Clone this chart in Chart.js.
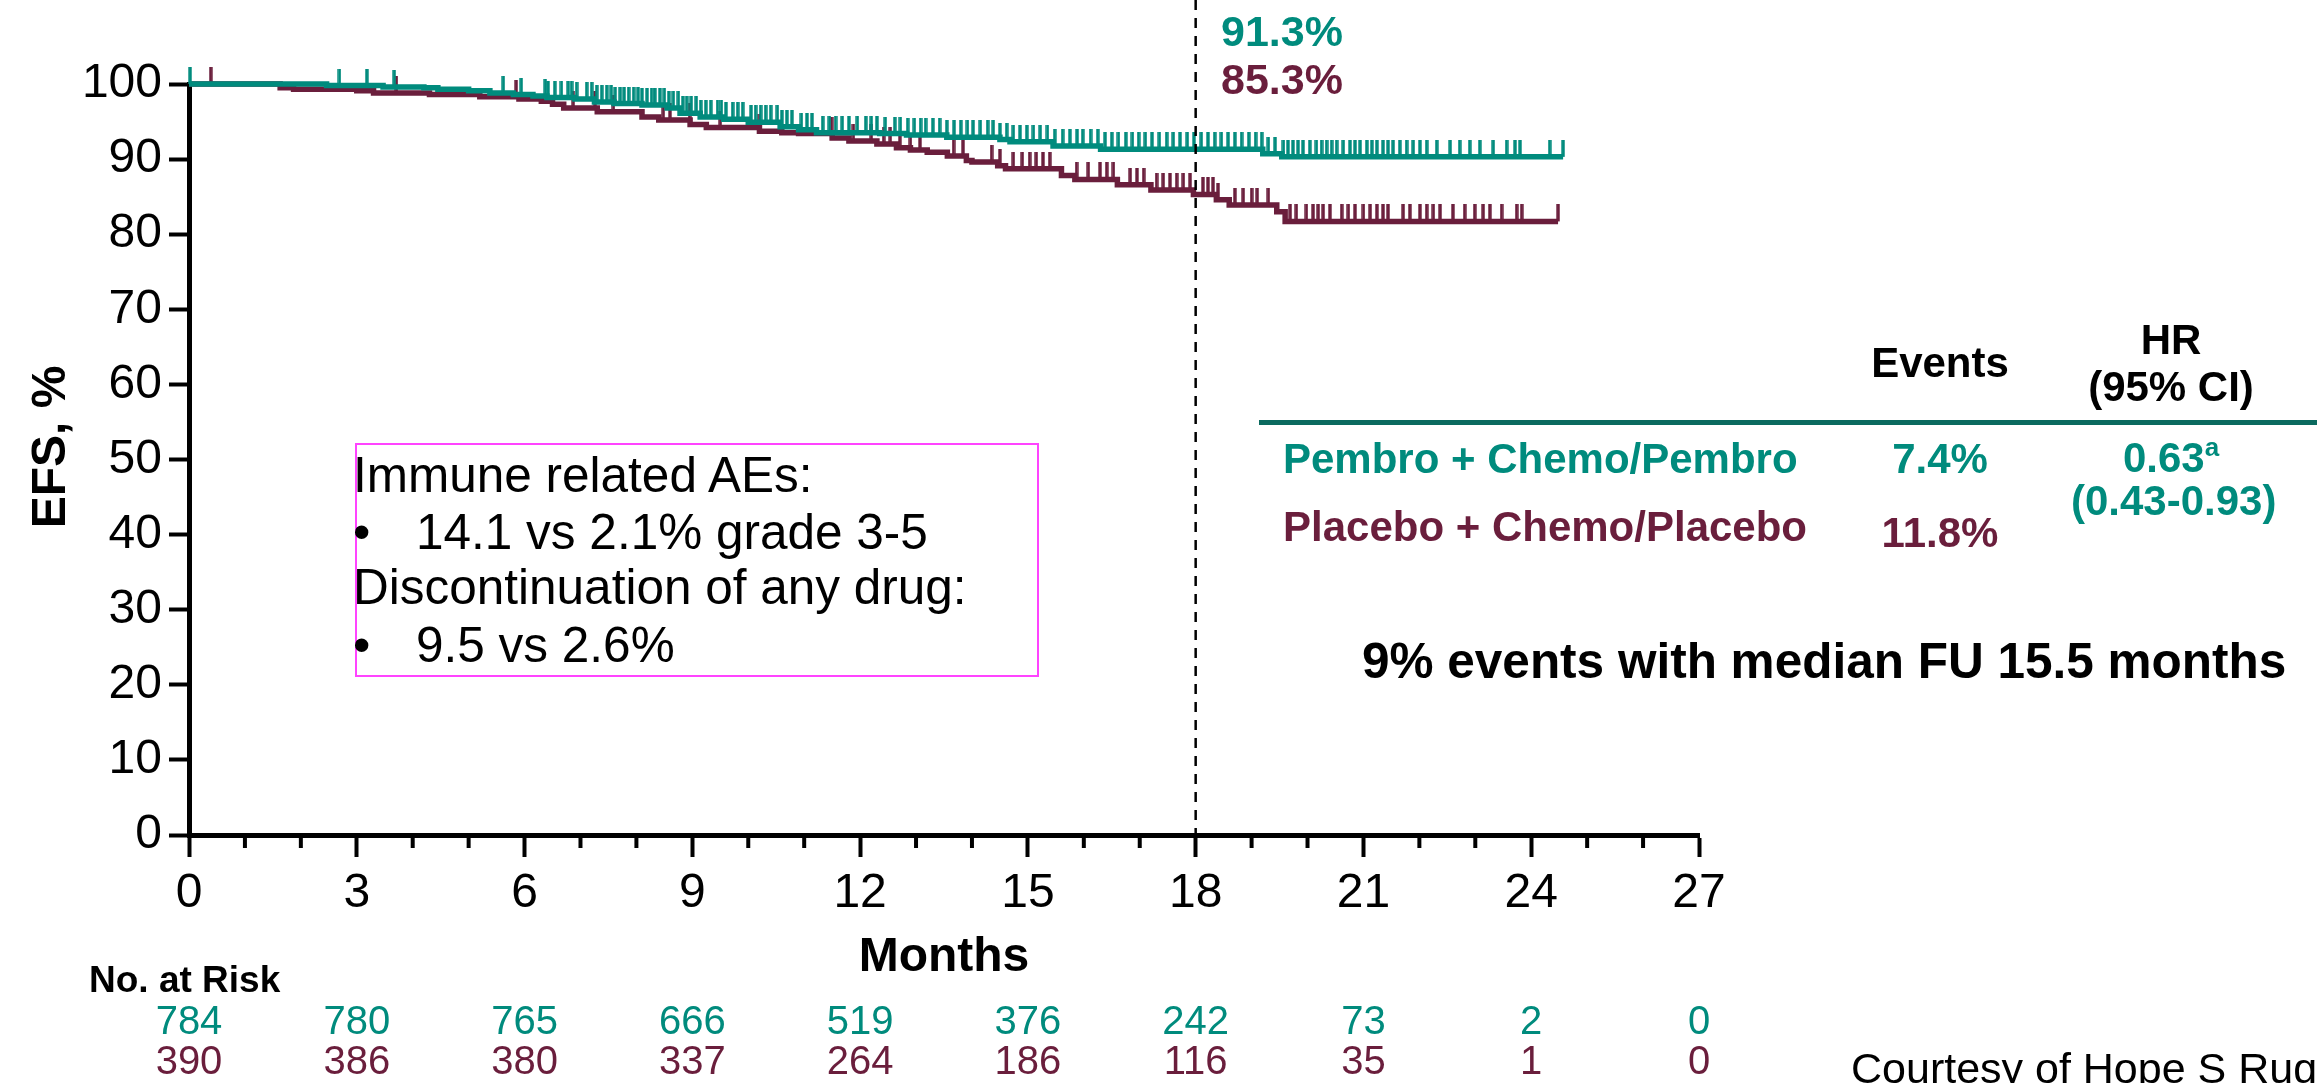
<!DOCTYPE html>
<html><head><meta charset="utf-8">
<script src="https://cdn.jsdelivr.net/npm/chart.js@4.4.1/dist/chart.umd.min.js"></script>
<style>
html,body{margin:0;padding:0;background:#fff;overflow:hidden;}
#wrap{position:relative;width:2317px;height:1083px;overflow:hidden;font-family:"Liberation Sans",Arial,Helvetica,sans-serif;color:#000;}
#c{position:absolute;left:0;top:0;}
.t{position:absolute;white-space:nowrap;line-height:1;}
.b{font-weight:bold;}
.teal{color:#008b7d;}
.mar{color:#6a1e3c;}
.ctr{text-align:center;}
#box{position:absolute;left:355px;top:443px;width:684px;height:234px;border:2px solid #ff44ff;box-sizing:border-box;}
</style></head><body>
<div id="wrap">
<canvas id="c" width="2317" height="1083"></canvas>

<div class="t b teal" style="left:1221px;top:10px;font-size:43px;">91.3%</div>
<div class="t b mar" style="left:1221px;top:58px;font-size:43px;">85.3%</div>

<div class="t b ctr" style="left:1840px;width:200px;top:342px;font-size:42px;">Events</div>
<div class="t b ctr" style="left:2071px;width:200px;top:319px;font-size:42px;">HR</div>
<div class="t b ctr" style="left:2071px;width:200px;top:366px;font-size:42px;">(95% CI)</div>
<div style="position:absolute;left:1259px;top:420px;width:1058px;height:5px;background:#0b6a5f;"></div>
<div class="t b teal" style="left:1283px;top:438px;font-size:42px;">Pembro + Chemo/Pembro</div>
<div class="t b teal ctr" style="left:1840px;width:200px;top:438px;font-size:42px;">7.4%</div>
<div class="t b teal ctr" style="left:2071px;width:200px;top:437px;font-size:42px;">0.63<span style="font-size:26px;position:relative;top:-16px;">a</span></div>
<div class="t b teal ctr" style="left:2071px;width:200px;top:480px;font-size:42px;">(0.43-0.93)</div>
<div class="t b mar" style="left:1283px;top:506px;font-size:42px;">Placebo + Chemo/Placebo</div>
<div class="t b mar ctr" style="left:1840px;width:200px;top:512px;font-size:42px;">11.8%</div>
<div class="t b" style="left:1362px;top:636px;font-size:49.5px;">9% events with median FU 15.5 months</div>

<div id="box"></div>
<div class="t" style="left:353px;top:450px;font-size:49.5px;">Immune related AEs:</div>
<div class="t" style="left:353px;top:507px;font-size:49.5px;">•</div>
<div class="t" style="left:416px;top:507px;font-size:49.5px;">14.1 vs 2.1% grade 3-5</div>
<div class="t" style="left:353px;top:562px;font-size:49.5px;">Discontinuation of any drug:</div>
<div class="t" style="left:353px;top:620px;font-size:49.5px;">•</div>
<div class="t" style="left:416px;top:620px;font-size:49.5px;">9.5 vs 2.6%</div>

<div class="t b" style="left:89px;top:961px;font-size:37px;">No. at Risk</div>
<div class="t" style="left:1851px;top:1047px;font-size:43px;">Courtesy of Hope S Rugo</div>
</div>
<script>
const FONT = '"Liberation Sans", Arial, Helvetica, sans-serif';
const TEAL = '#008b7d';
const MAROON = '#6a1e3c';

// Kaplan-Meier step data (months, EFS %)
const pembroTimes = [0, 2.46, 3.47, 4.2, 4.45, 5.0, 5.38, 5.8, 6.15, 6.4, 6.9, 7.25, 7.6, 8.1, 8.55, 8.78, 9.14, 9.56, 10.0, 10.57, 10.9, 11.22, 12.35, 12.83, 13.55, 14.5, 14.68, 15.45, 16.3, 19.2, 19.54, 24.57];
const pembroSurv  = [100, 99.8, 99.6, 99.5, 99.3, 99.1, 98.8, 98.6, 98.4, 98.2, 98.0, 97.6, 97.4, 97.2, 96.8, 96.1, 95.6, 95.3, 94.9, 94.3, 93.9, 93.5, 93.4, 93.2, 92.9, 92.6, 92.3, 91.75, 91.3, 90.7, 90.3, 90.3];

const placeboTimes = [0, 1.63, 1.87, 3.0, 3.3, 4.3, 5.2, 5.9, 6.3, 6.5, 6.7, 7.3, 8.1, 8.4, 8.96, 9.25, 10.2, 10.6, 10.9, 11.5, 11.8, 12.3, 12.65, 12.9, 13.2, 13.56, 13.9, 14.0, 14.46, 14.6, 15.6, 15.84, 16.6, 17.2, 17.96, 18.37, 18.6, 19.45, 19.6, 24.48];
const placeboSurv  = [100, 99.5, 99.3, 99.1, 98.8, 98.6, 98.3, 98.0, 97.7, 97.3, 96.8, 96.3, 95.6, 95.2, 94.6, 94.2, 93.7, 93.5, 93.4, 92.8, 92.4, 92.0, 91.5, 91.2, 90.9, 90.4, 89.8, 89.6, 89.1, 88.7, 87.8, 87.3, 86.6, 85.9, 85.3, 84.6, 83.9, 83.0, 81.7, 81.7];

// Censoring times (months)
const pembroCensor = [0.02, 2.69, 3.18, 3.67, 5.62, 5.94, 6.37, 6.42, 6.54, 6.66, 6.78, 6.84, 6.93, 7.11, 7.2, 7.29, 7.38,
  7.47, 7.55, 7.62, 7.71, 7.78, 7.86, 7.95, 8.03, 8.1, 8.19, 8.27, 8.33, 8.42, 8.5, 8.58, 8.66, 8.75, 8.83, 8.9, 8.98,
  9.07, 9.15, 9.24, 9.33, 9.45, 9.52, 9.6, 9.72, 9.81, 9.9, 10.05, 10.13, 10.22, 10.31, 10.4, 10.52, 10.6, 10.69, 10.78,
  10.95, 11.05, 11.14, 11.33, 11.45, 11.56, 11.68, 11.8, 11.95, 12.1, 12.2, 12.3, 12.45, 12.62, 12.72, 12.85, 12.97,
  13.08, 13.17, 13.3, 13.42, 13.55, 13.68, 13.8, 13.92, 14.02, 14.15, 14.28, 14.38, 14.5, 14.62, 14.74, 14.86, 14.98,
  15.1, 15.22, 15.35, 15.48, 15.62, 15.75, 15.88, 15.98, 16.12, 16.25, 16.38, 16.5, 16.62, 16.75, 16.87, 16.98, 17.1,
  17.22, 17.35, 17.48, 17.6, 17.72, 17.85, 17.97, 18.1, 18.22, 18.34, 18.46, 18.58, 18.7, 18.82, 18.95, 19.07, 19.18,
  19.3, 19.42, 19.57, 19.65, 19.74, 19.83, 19.92, 20.04, 20.16, 20.25, 20.34, 20.43, 20.52, 20.64, 20.76, 20.85, 20.94,
  21.06, 21.15, 21.24, 21.35, 21.44, 21.53, 21.65, 21.77, 21.89, 22.01, 22.13, 22.31, 22.55, 22.72, 22.9, 23.08, 23.32,
  23.56, 23.71, 23.8, 24.33, 24.57];
const placeboCensor = [0.39, 3.71, 5.85, 6.87, 7.26, 7.59, 8.48, 8.6, 8.95, 9.5, 10.2, 11.49, 11.88, 12.2, 12.42, 12.54,
  12.71, 12.9, 13.07, 13.67, 13.84, 14.35, 14.5, 14.74, 14.9, 15.03, 15.15, 15.27, 15.39, 15.87, 16.08, 16.29, 16.41,
  16.53, 16.83, 16.95, 17.07, 17.3, 17.42, 17.54, 17.66, 17.78, 17.9, 18.13, 18.22, 18.31, 18.4, 18.7, 18.85, 19.0,
  19.1, 19.3, 19.69, 19.8, 19.98, 20.1, 20.19, 20.28, 20.4, 20.61, 20.73, 20.85, 21.0, 21.12, 21.24, 21.35, 21.44,
  21.71, 21.83, 22.01, 22.13, 22.25, 22.37, 22.6, 22.81, 22.99, 23.14, 23.26, 23.47, 23.74, 23.83, 24.48];

// Number at risk
const riskTimes   = [0, 3, 6, 9, 12, 15, 18, 21, 24, 27];
const pembroRisk  = [784, 780, 765, 666, 519, 376, 242, 73, 2, 0];
const placeboRisk = [390, 386, 380, 337, 264, 186, 116, 35, 1, 0];

const landmarkMonth = 18;
const xMin = 0, xMax = 27, xMajorStep = 3, xMinorStep = 1;
const yMin = 0, yMax = 100, yStep = 10;
const yTitle = 'EFS, %';
const xTitle = 'Months';

function survAt(times, surv, t) {
  let v = surv[0];
  for (let i = 0; i < times.length; i++) { if (times[i] <= t) v = surv[i]; }
  return v;
}
function tickImg(color) {
  const c = document.createElement('canvas');
  c.width = 4; c.height = 34;
  const g = c.getContext('2d');
  g.fillStyle = color;
  g.fillRect(0.3, 0, 3.4, 17);
  return c;
}

const extrasPlugin = {
  id: 'extras',
  afterDatasetsDraw(chart) {
    const xs = chart.scales.x, ctx = chart.ctx, area = chart.chartArea;
    const px = xs.getPixelForValue(landmarkMonth);
    ctx.save();
    ctx.strokeStyle = '#000';
    ctx.lineWidth = 2.5;
    ctx.setLineDash([10, 8]);
    ctx.beginPath();
    ctx.moveTo(px, 0);
    ctx.lineTo(px, area.bottom);
    ctx.stroke();
    ctx.restore();
  },
  afterDraw(chart) {
    const xs = chart.scales.x, ctx = chart.ctx, area = chart.chartArea;
    ctx.save();
    ctx.strokeStyle = '#000';
    ctx.lineWidth = 4;
    for (let m = xMin; m <= xMax; m += xMinorStep) {
      if (m % xMajorStep === 0) continue;
      const p = xs.getPixelForValue(m);
      ctx.beginPath();
      ctx.moveTo(p, area.bottom);
      ctx.lineTo(p, area.bottom + 13);
      ctx.stroke();
    }
    // y-axis title
    ctx.save();
    ctx.translate(52, 447);
    ctx.rotate(-Math.PI / 2);
    ctx.font = 'bold 48px ' + FONT;
    ctx.fillStyle = '#000';
    ctx.textAlign = 'center';
    ctx.textBaseline = 'middle';
    ctx.fillText(yTitle, 0, 0);
    ctx.restore();
    // number at risk rows
    ctx.font = '40px ' + FONT;
    ctx.textAlign = 'center';
    ctx.textBaseline = 'alphabetic';
    riskTimes.forEach((t, i) => {
      const p = xs.getPixelForValue(t);
      ctx.fillStyle = TEAL;
      ctx.fillText(String(pembroRisk[i]), p, 1034);
      ctx.fillStyle = MAROON;
      ctx.fillText(String(placeboRisk[i]), p, 1074);
    });
    ctx.restore();
  }
};

new Chart(document.getElementById('c'), {
  type: 'line',
  data: {
    datasets: [
      { label: 'Pembro censored', data: pembroCensor.map(t => ({x: t, y: survAt(pembroTimes, pembroSurv, t)})),
        showLine: false, pointStyle: tickImg(TEAL), pointRadius: 8, clip: false, order: 0 },
      { label: 'Pembro + Chemo/Pembro', data: pembroTimes.map((t, i) => ({x: t, y: pembroSurv[i]})),
        stepped: true, borderColor: TEAL, borderWidth: 5.5, pointRadius: 0, fill: false, clip: false, order: 1 },
      { label: 'Placebo censored', data: placeboCensor.map(t => ({x: t, y: survAt(placeboTimes, placeboSurv, t)})),
        showLine: false, pointStyle: tickImg(MAROON), pointRadius: 8, clip: false, order: 2 },
      { label: 'Placebo + Chemo/Placebo', data: placeboTimes.map((t, i) => ({x: t, y: placeboSurv[i]})),
        stepped: true, borderColor: MAROON, borderWidth: 5.5, pointRadius: 0, fill: false, clip: false, order: 3 }
    ]
  },
  options: {
    responsive: false, animation: false, devicePixelRatio: 1,
    layout: { padding: { left: 0, top: 84, right: 618, bottom: 96 } },
    plugins: { legend: { display: false }, tooltip: { enabled: false } },
    scales: {
      x: {
        type: 'linear', min: xMin, max: xMax,
        ticks: { stepSize: xMajorStep, autoSkip: false, maxRotation: 0, color: '#000', padding: 8,
                 font: { family: FONT, size: 48 } },
        grid: { display: true, drawOnChartArea: false, drawTicks: true, tickLength: 22, tickWidth: 4, tickColor: '#000' },
        border: { display: true, color: '#000', width: 5 },
        title: { display: true, text: xTitle, color: '#000', padding: { top: 0, bottom: 0 },
                 font: { family: FONT, size: 48, weight: 'bold' } },
        afterFit(s) { s.height = 152; }
      },
      y: {
        min: yMin, max: yMax,
        ticks: { stepSize: yStep, color: '#000', padding: 7, font: { family: FONT, size: 48 } },
        grid: { display: true, drawOnChartArea: false, drawTicks: true, tickLength: 20, tickWidth: 4, tickColor: '#000' },
        border: { display: true, color: '#000', width: 5 },
        title: { display: false, text: yTitle },
        afterFit(s) { s.width = 189; }
      }
    }
  },
  plugins: [extrasPlugin]
});
</script>
</body></html>
